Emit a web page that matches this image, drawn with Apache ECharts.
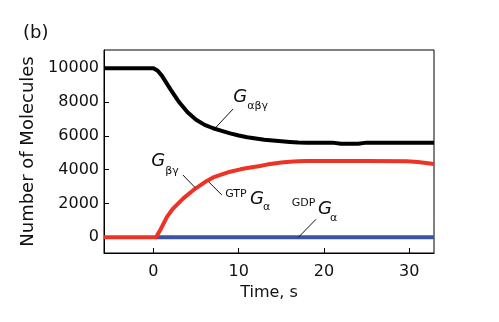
<!DOCTYPE html>
<html><head><meta charset="utf-8">
<script src="https://cdn.jsdelivr.net/npm/echarts@6/dist/echarts.min.js"></script>
<style>html,body{margin:0;padding:0;background:#fff}#c{width:499px;height:322px}</style>
</head><body><div id="c"></div>
<script>
var xTicks = [0, 10, 20, 30];
var yTicks = [0, 2000, 4000, 6000, 8000, 10000];
var tBlack = [-5.8, 0, 0.5, 1, 2, 3, 4, 5, 6, 7, 8, 9, 10, 11, 12, 13, 14, 15, 16, 17, 18, 20, 21, 22, 24, 25, 28, 30, 32.9];
var vBlack = [10000, 10000, 9850, 9550, 8750, 8000, 7400, 6950, 6650, 6450, 6300, 6150, 6020, 5920, 5840, 5770, 5720, 5680, 5640, 5610, 5600, 5600, 5600, 5540, 5540, 5600, 5600, 5600, 5600];
var tRed = [-5.8, 0, 0.3, 0.8, 1.6, 2.3, 3.5, 4.7, 6.3, 7, 8.2, 9, 10.2, 11, 12.5, 13.3, 15, 16, 17, 18, 25, 29.7, 31, 32.9];
var vRed = [0, 0, 0, 430, 1220, 1700, 2300, 2800, 3350, 3540, 3745, 3880, 4020, 4100, 4220, 4300, 4420, 4470, 4500, 4510, 4510, 4500, 4450, 4340];
var tBlue = [0.3, 32.9];
var vBlue = [0, 0];

function zip(a, b) { return a.map(function (v, i) { return [v, b[i]]; }); }

var chart = echarts.init(document.getElementById('c'), null, {renderer: 'canvas'});
var FONT = 'DejaVu Sans';
chart.setOption({
  animation: false,
  grid: {left: 104, top: 50, right: 65, bottom: 69, show: true, borderColor: '#000', borderWidth: 1},
  xAxis: {
    type: 'value', min: -5.8, max: 32.9,
    axisLine: {onZero: false, lineStyle: {color: '#000', width: 1}},
    axisTick: {inside: true, length: 5, lineStyle: {color: '#000'}, customValues: xTicks},
    axisLabel: {color: '#111', fontFamily: FONT, fontSize: 16, margin: 11, customValues: xTicks, formatter: function (v) { return String(v); }},
    splitLine: {show: false},
    name: 'Time, s', nameLocation: 'middle', nameGap: 29,
    nameTextStyle: {color: '#111', fontFamily: FONT, fontSize: 16}
  },
  yAxis: {
    type: 'value', min: -930, max: 11080,
    axisLine: {onZero: false, lineStyle: {color: '#000', width: 1}},
    axisTick: {inside: true, length: 5, lineStyle: {color: '#000'}, customValues: yTicks},
    axisLabel: {color: '#111', fontFamily: FONT, fontSize: 16, margin: 5, customValues: yTicks, formatter: function (v) { return String(v); }},
    splitLine: {show: false},
    name: 'Number of Molecules', nameLocation: 'middle', nameGap: 66,
    nameTextStyle: {color: '#111', fontFamily: FONT, fontSize: 18}
  },
  series: [
    {type: 'line', data: zip(tBlue, vBlue), showSymbol: false, lineStyle: {color: '#3b53a3', width: 4}, z: 2},
    {type: 'line', data: zip(tRed, vRed), showSymbol: false, lineStyle: {color: '#ec3325', width: 4, join: 'round'}, z: 3},
    {type: 'line', data: zip(tBlack, vBlack), showSymbol: false, lineStyle: {color: '#000', width: 4, join: 'round'}, z: 3}
  ]
});

// annotations anchored in data coordinates
var texts = [
  {t: 9.37, v: 8272, s: 'G', size: 18, italic: true},
  {t: 11.0, v: 7760, s: 'αβγ', size: 11},
  {t: -0.27, v: 4473, s: 'G', size: 18, italic: true},
  {t: 1.39, v: 3900, s: 'βγ', size: 11},
  {t: 8.41, v: 2562, s: 'GTP', size: 11},
  {t: 11.33, v: 2266, s: 'G', size: 18, italic: true},
  {t: 12.85, v: 1760, s: 'α', size: 11},
  {t: 16.22, v: 2012, s: 'GDP', size: 11},
  {t: 19.31, v: 1657, s: 'G', size: 18, italic: true},
  {t: 20.71, v: 1160, s: 'α', size: 11}
];
var leaders = [
  [[9.34, 7592], [7.35, 6520]],
  [[3.45, 3686], [4.89, 2935]],
  [[6.45, 3290], [8.02, 2503]],
  [[19.07, 1065], [17.0, 0]]
];
var g = [];
texts.forEach(function (d) {
  var p = chart.convertToPixel({gridIndex: 0}, [d.t, d.v]);
  g.push({type: 'text', x: p[0], y: p[1], z: 10, style: {
    text: d.s, fill: '#111', font: (d.italic ? 'italic ' : '') + d.size + 'px "DejaVu Sans"',
    verticalAlign: 'middle', align: 'left'}});
});
leaders.forEach(function (l) {
  var a = chart.convertToPixel({gridIndex: 0}, l[0]);
  var b = chart.convertToPixel({gridIndex: 0}, l[1]);
  g.push({type: 'line', z: 10, shape: {x1: a[0], y1: a[1], x2: b[0], y2: b[1]}, style: {stroke: '#111', lineWidth: 1}});
});
g.push({type: 'text', x: 23, y: 33, style: {text: '(b)', fill: '#111', font: '18px "DejaVu Sans"', verticalAlign: 'middle'}});
chart.setOption({graphic: g});
</script></body></html>
